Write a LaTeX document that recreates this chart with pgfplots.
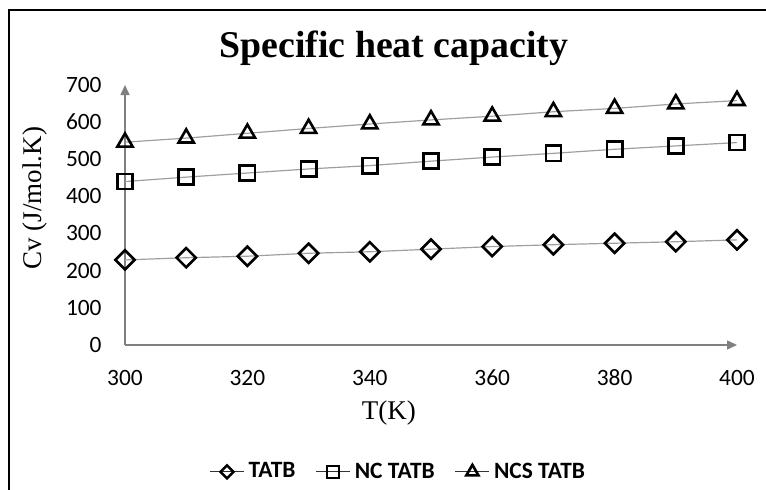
\documentclass[border=0pt]{standalone}
\usepackage{fontspec}
\setmainfont{Liberation Serif}
\newfontfamily\calibri{Carlito}
\usepackage{pgfplots}
\usepackage{pgfplotstable}
\pgfplotsset{compat=1.18}
\usetikzlibrary{arrows.meta}

\pgfplotstableread{
T    TATB  NC   NCS
300  229   440  546
310  235   452  557
320  239   463  570
330  247   474  583
340  251   483  595
350  258   495  606
360  265   506  616
370  270   516  628
380  274   527  637
390  278   536  649
400  283   545  658
}\datatable

\begin{document}
\begin{tikzpicture}
\useasboundingbox (0pt,0pt) rectangle (383pt,245pt);
\draw[line width=1pt] (4.5pt,0pt) -- (4.5pt,240pt) -- (383pt,240pt);
\node[anchor=base, font=\bfseries\fontsize{18.9}{22}\selectfont, inner sep=0pt] at (197pt,216pt) {Specific heat capacity};
\begin{axis}[
  at={(62.5pt,72.5pt)}, anchor=south west,
  width=306pt, height=130pt, scale only axis,
  xmin=300, xmax=400, ymin=0, ymax=700,
  axis lines=left,
  axis line style={draw=gray, line width=0.75pt, -{Triangle[length=5pt,width=4.5pt]}},
  xtick={300,320,...,400}, ytick={0,100,...,700},
  major tick length=0pt,
  /pgf/number format/assume math mode=true,
  tick label style={font=\calibri\fontsize{11.7}{13}\selectfont, inner sep=0pt, text height=7.4pt, text depth=0pt},
  yticklabel style={anchor=east, xshift=-11.5pt},
  xticklabel style={anchor=north, yshift=-12.5pt},
  xlabel={T(K)},
  ylabel={Cv (J/mol.K)},
  label style={font=\fontsize{13.5}{15}\selectfont, inner sep=0pt},
  xlabel style={at={(axis description cs:0.431,-0.288)}, anchor=base},
  ylabel style={at={(axis description cs:-0.137,0.565)}, anchor=base},
  legend style={at={(axis description cs:0.448,-0.488)}, anchor=center, draw=none,
    legend columns=3, font=\calibri\bfseries\fontsize{11.7}{13}\selectfont,
    /tikz/every even column/.append style={column sep=8pt},
    cells={inner sep=0.8pt}},
  every axis plot/.append style={color=gray!75, line width=0.6pt},
]
\addplot[mark=square, mark size=3.4pt, mark options={draw=black, fill=white, line width=1.3pt, solid, rotate=45},
  legend image post style={mark size=2.3pt, draw=gray!40!black}] table[x=T,y=TATB] {\datatable};
\addlegendentry{TATB}
\addplot[mark=square, mark size=3.8pt, mark options={draw=black, fill=white, line width=1.3pt, solid},
  legend image post style={mark size=3pt, draw=gray!40!black}] table[x=T,y=NC] {\datatable};
\addlegendentry{NC TATB}
\addplot[mark=triangle, mark size=4.4pt, mark options={draw=black, fill=white, line width=1.3pt, solid},
  legend image post style={mark size=3.5pt, draw=gray!40!black}] table[x=T,y=NCS] {\datatable};
\addlegendentry{NCS TATB}
\end{axis}
\end{tikzpicture}
\end{document}
